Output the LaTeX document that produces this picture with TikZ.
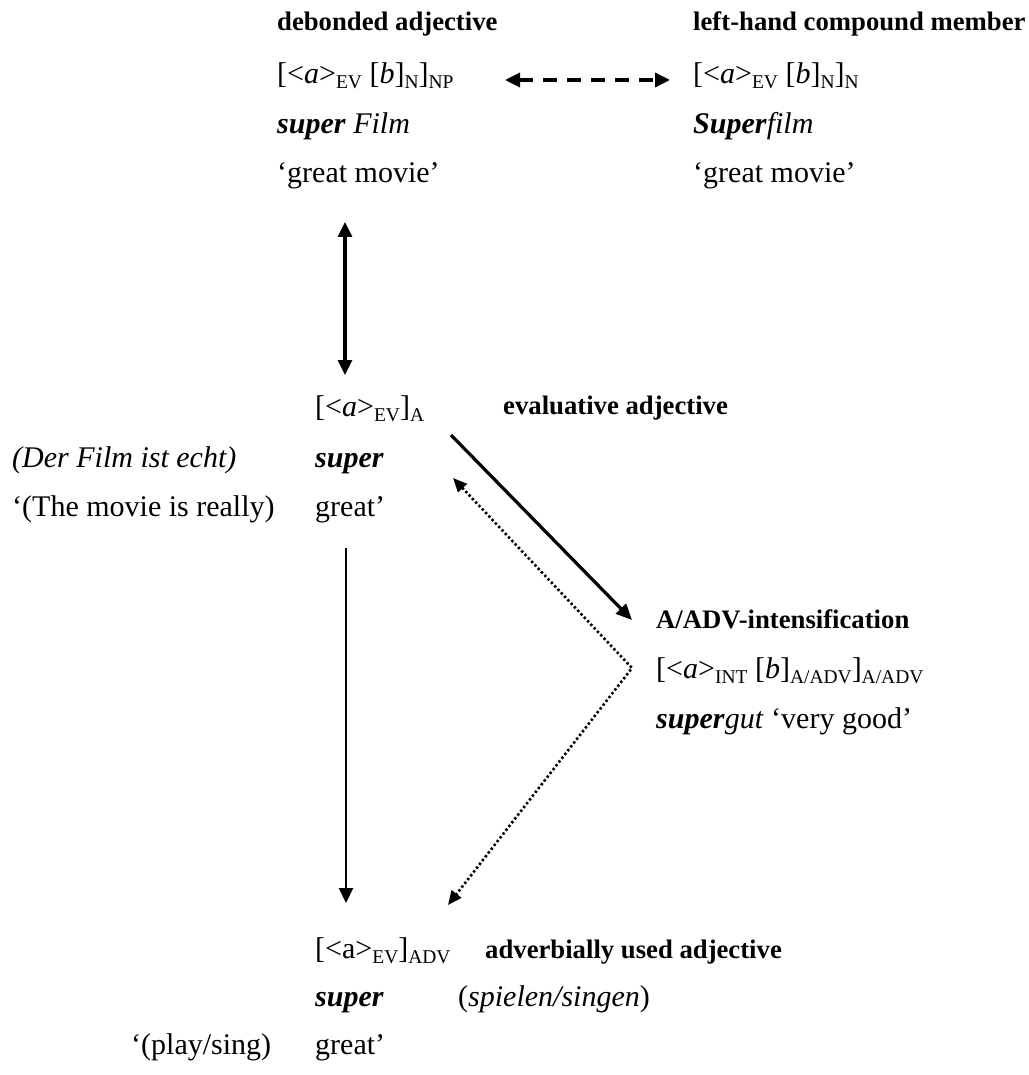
\documentclass[tikz,border=0pt]{standalone}
\usepackage{fontspec}
\setmainfont{Liberation Serif}
\usetikzlibrary{arrows.meta}
\newcommand{\sbx}[1]{\raisebox{-5pt}{\fontsize{19.5}{20}\selectfont #1}}
\newcommand{\bi}[1]{\textbf{\textit{#1}}}
\begin{document}
\begin{tikzpicture}[x=1pt,y=-1pt,
  txt/.style={anchor=base west,inner sep=0pt,font=\fontsize{30}{36}\selectfont},
  lbl/.style={anchor=base west,inner sep=0pt,font=\fontsize{26.7}{32}\selectfont\bfseries},
  thick arrow/.style={line width=3.2pt,{Triangle[length=15pt,width=14pt]}-{Triangle[length=15pt,width=14pt]}},
  dash arrow/.style={line width=3.4pt,dash pattern=on 14pt off 10pt,{Triangle[length=15pt,width=14pt]}-{Triangle[length=15pt,width=14pt]}},
  diag arrow/.style={line width=3.2pt,-{Triangle[length=16pt,width=14pt]}},
  thin arrow/.style={line width=2pt,-{Triangle[length=15pt,width=14pt]}},
  dot arrow/.style={line width=2.6pt,dash pattern=on 2.4pt off 2.4pt,{Triangle[length=14pt,width=12pt]}-{Triangle[length=14pt,width=12pt]}}
]
\useasboundingbox[fill=white] (0,0) rectangle (1028,1075);

% top left block
\node[lbl] (lblDeb) at (277,31) {debonded adjective};
\node[txt] (fDeb) at (277,84) {[<\textit{a}>\sbx{EV} [\textit{b}]\sbx{N}]\sbx{NP}};
\node[txt] (exDeb) at (277,134) {\bi{super} \textit{Film}};
\node[txt] (glDeb) at (277,183) {‘great movie’};

% top right block
\node[lbl] (lblCmp) at (693,31) {left-hand compound member};
\node[txt] (fCmp) at (693,84) {[<\textit{a}>\sbx{EV} [\textit{b}]\sbx{N}]\sbx{N}};
\node[txt] (exCmp) at (693,134) {\bi{Super}\textit{film}};
\node[txt] (glCmp) at (693,183) {‘great movie’};

% middle block
\node[txt] (fEv) at (315,416) {[<\textit{a}>\sbx{EV}]\sbx{A}};
\node[lbl] (lblEv) at (503,414) {evaluative adjective};
\node[txt] (ctxEv) at (12,467) {\textit{(Der Film ist echt)}};
\node[txt] (exEv) at (315,467) {\bi{super}};
\node[txt] (ctxGlEv) at (12,516) {‘(The movie is really)};
\node[txt] (glEv) at (315,516) {great’};

% intensification block
\node[lbl] (lblInt) at (656,628) {A/ADV-intensification};
\node[txt] (fInt) at (656,678) {[<\textit{a}>\sbx{INT} [\textit{b}]\sbx{A/ADV}]\sbx{A/ADV}};
\node[txt] (exInt) at (656,728) {\bi{super}\textit{gut} ‘very good’};

% bottom block
\node[txt] (fAdv) at (315,958) {[<a>\sbx{EV}]\sbx{ADV}};
\node[lbl] (lblAdv) at (485,958) {adverbially used adjective};
\node[txt] (exAdv) at (315,1006) {\bi{super}};
\node[txt] (ctxAdv) at (458,1006) {(\textit{spielen/singen})};
\node[txt] (ctxGlAdv) at (131,1054) {‘(play/sing)};
\node[txt] (glAdv) at (315,1054) {great’};

% connector end points
\coordinate (dashL) at (505,80);
\coordinate (dashR) at (670,80);
\coordinate (dblT) at (345,222);
\coordinate (dblB) at (345,375);
\coordinate (diagS) at (451,435);
\coordinate (diagE) at (632,620);
\coordinate (dotT) at (453,478);
\coordinate (dotC) at (632,668);
\coordinate (dotB) at (448,905);
\coordinate (vertS) at (346,548);
\coordinate (vertE) at (346,903);

% connectors
\draw[dash arrow] (dashL) -- (dashR);
\draw[thick arrow] (dblT) -- (dblB);
\draw[diag arrow] (diagS) -- (diagE);
\draw[dot arrow] (dotT) -- (dotC) -- (dotB);
\draw[thin arrow] (vertS) -- (vertE);
\end{tikzpicture}
\end{document}
